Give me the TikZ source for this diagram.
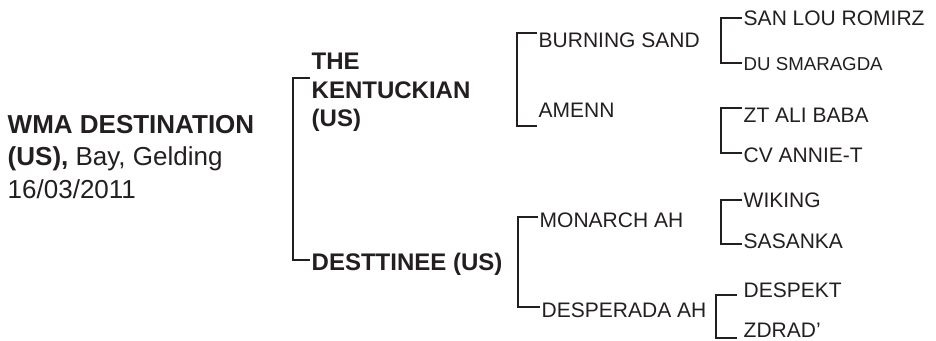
\documentclass[tikz,border=0pt]{standalone}
\usepackage{fontspec}
\setmainfont{Liberation Sans}
\usetikzlibrary{positioning,calc}
\definecolor{ink}{HTML}{231F20}
\tikzset{horse/.style={anchor=base west,inner xsep=1.1pt,inner ysep=0pt,text=ink,font=\fontsize{15.75}{19}\selectfont},
         sire/.style={horse,font=\bfseries\fontsize{18}{21.4}\selectfont},
         bracket/.style={draw=ink,line width=1.9pt},
            }

\begin{document}
\begin{tikzpicture}[x=0.75pt,y=-0.75pt]
    \useasboundingbox (0,0) rectangle (936,340);
    % the horse itself
    \node[horse,anchor=north west,align=left,font=\fontsize{19.5}{24.4}\selectfont] (wma) at (6,115)
        {\textbf{WMA DESTINATION}\\\textbf{(US),} Bay, Gelding\\16/03/2011};
    % parents
    \node[sire,anchor=north west,align=left] (kent) at (310,53) {THE\\KENTUCKIAN\\(US)};
    \node[sire] (dest) at (310,270) {DESTTINEE (US)};
    % grandparents
    \node[horse] (burning) at (537,47) {BURNING SAND};
    \node[horse] (amenn) at (537,117) {AMENN};
    \node[horse] (monarch) at (538,227) {MONARCH AH};
    \node[horse] (desperada) at (540,317) {DESPERADA AH};
    % great-grandparents
    \node[horse] (sanlou) at (742,25) {SAN LOU ROMIRZ};
    \node[horse,font=\fontsize{14}{17}\selectfont] (smaragda) at (742,70) {DU SMARAGDA};
    \node[horse] (alibaba) at (742,122) {ZT ALI BABA};
    \node[horse] (annie) at (742,162) {CV ANNIE-T};
    \node[horse] (wiking) at (742,207) {WIKING};
    \node[horse] (sasanka) at (742,248) {SASANKA};
    \node[horse] (despekt) at (742,297) {DESPEKT};
    \node[horse] (zdrad) at (742,337) {ZDRAD'};

    \draw[bracket] ($(kent.north west)+(0,25)$) -- ++(-17,0) |- ($(dest.base west)+(0,-10)$);
    \draw[bracket] ($(burning.base west)+(0,-14)$) -- ++(-20,0) |- ($(amenn.base west)+(0,9)$);
    \draw[bracket] ($(monarch.base west)+(0,-10)$) -- ++(-20,0) |- ($(desperada.base west)+(0,-10)$);
    \draw[bracket] ($(sanlou.base west)+(0,-7)$) -- ++(-21,0) |- ($(smaragda.base west)+(0,-7)$);
    \draw[bracket] ($(alibaba.base west)+(0,-14)$) -- ++(-21,0) |- ($(annie.base west)+(0,-9)$);
    \draw[bracket] ($(wiking.base west)+(0,-7)$) -- ++(-21,0) |- ($(sasanka.base west)+(0,-4)$);
    \draw[bracket] ($(despekt.base west)+(-5,-2)$) -- ++(-21,0) |- ($(zdrad.base west)+(-5,1)$);
\end{tikzpicture}
\end{document}
